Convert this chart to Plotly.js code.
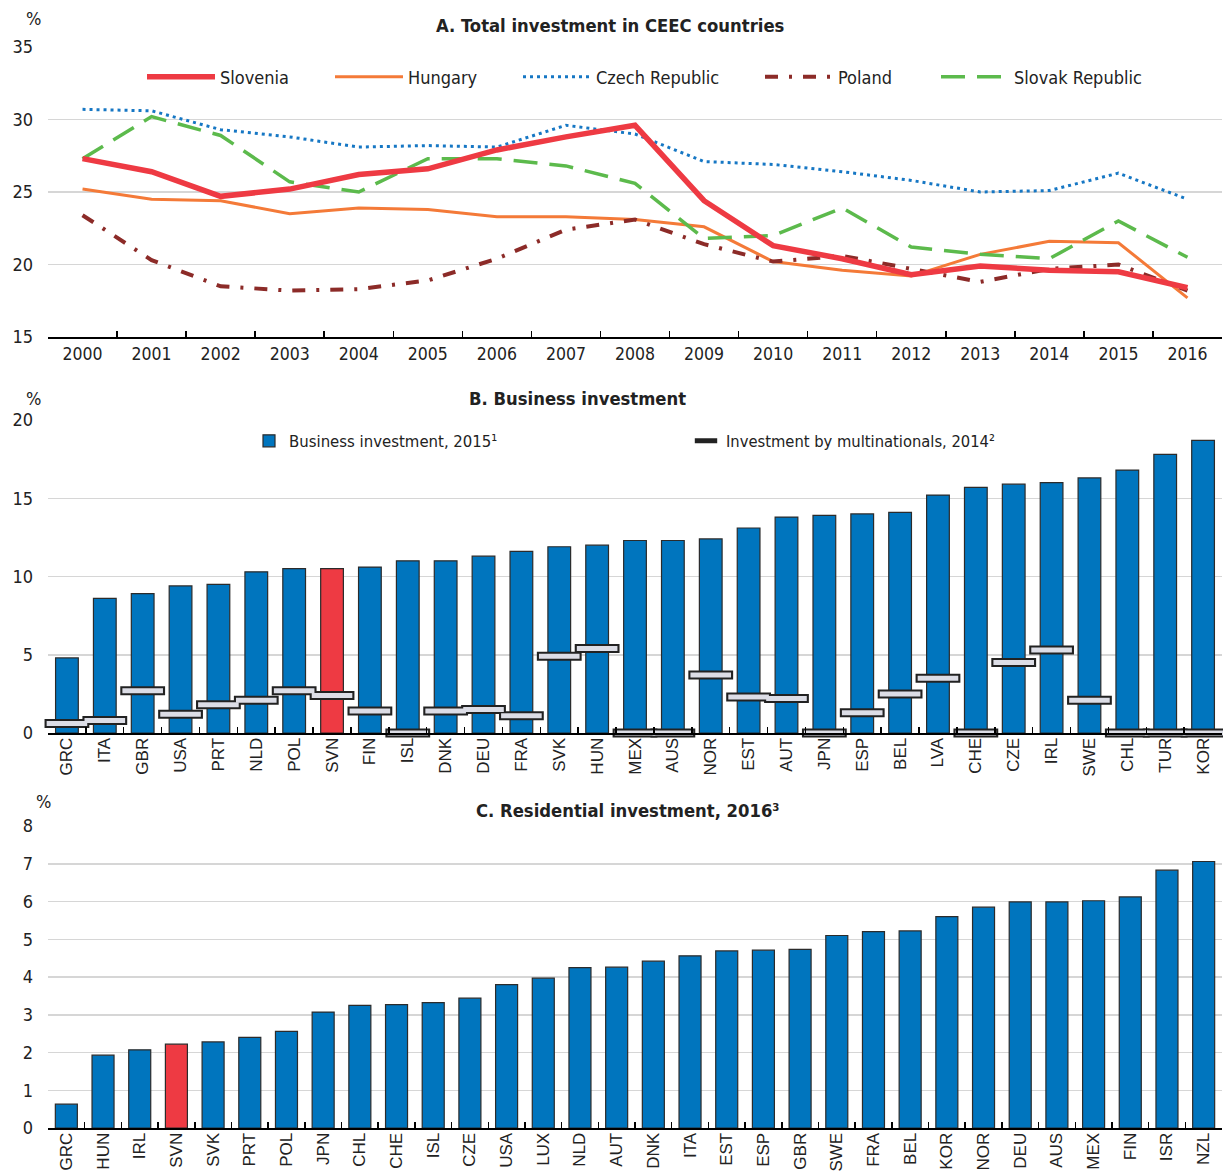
<!DOCTYPE html>
<html><head><meta charset="utf-8">
<script src="https://cdn.plot.ly/plotly-3.0.1.min.js"></script>
<style>html,body{margin:0;padding:0;background:#fff;} #chart{width:1223px;height:1172px;}</style>
</head><body><div id="chart"></div>
<script>
// ---------- Panel A data ----------
const years = ['2000','2001','2002','2003','2004','2005','2006','2007','2008','2009','2010','2011','2012','2013','2014','2015','2016'];
const slovenia = [27.3,26.4,24.7,25.2,26.2,26.6,27.9,28.8,29.6,24.4,21.3,20.4,19.3,19.9,19.6,19.5,18.4];
const hungary  = [25.2,24.5,24.4,23.5,23.9,23.8,23.3,23.3,23.1,22.6,20.2,19.6,19.2,20.7,21.6,21.5,17.7];
const czech    = [30.7,30.6,29.3,28.8,28.1,28.2,28.1,29.6,29.0,27.1,26.9,26.4,25.8,25.0,25.1,26.3,24.5];
const poland   = [23.4,20.3,18.5,18.2,18.3,18.9,20.4,22.4,23.1,21.4,20.2,20.6,19.7,18.8,19.7,20.0,18.2];
const slovak   = [27.3,30.2,28.9,25.7,25.0,27.3,27.3,26.8,25.6,21.8,22.0,23.9,21.2,20.7,20.4,23.0,20.5];

// ---------- Panel B data ----------
const bizCountries = ['GRC','ITA','GBR','USA','PRT','NLD','POL','SVN','FIN','ISL','DNK','DEU','FRA','SVK','HUN','MEX','AUS','NOR','EST','AUT','JPN','ESP','BEL','LVA','CHE','CZE','IRL','SWE','CHL','TUR','KOR'];
const bizValues = [4.8,8.6,8.9,9.4,9.5,10.3,10.5,10.5,10.6,11.0,11.0,11.3,11.6,11.9,12.0,12.3,12.3,12.4,13.1,13.8,13.9,14.0,14.1,15.2,15.7,15.9,16.0,16.3,16.8,17.8,18.7];
const mncValues = [0.6,0.8,2.7,1.2,1.8,2.1,2.7,2.4,1.4,0,1.4,1.5,1.1,4.9,5.4,0,0,3.7,2.3,2.2,0,1.3,2.5,3.5,0,4.5,5.3,2.1,0,0,0];

// ---------- Panel C data ----------
const resCountries = ['GRC','HUN','IRL','SVN','SVK','PRT','POL','JPN','CHL','CHE','ISL','CZE','USA','LUX','NLD','AUT','DNK','ITA','EST','ESP','GBR','SWE','FRA','BEL','KOR','NOR','DEU','AUS','MEX','FIN','ISR','NZL'];
const resValues = [0.63,1.93,2.07,2.22,2.28,2.40,2.56,3.07,3.25,3.27,3.32,3.44,3.80,3.97,4.25,4.26,4.42,4.56,4.69,4.71,4.73,5.10,5.20,5.22,5.60,5.85,5.99,5.99,6.02,6.12,6.83,7.06];

const highlight = 'SVN';

// ---------- styles ----------
const W = 1223, H = 1172;
const px = v => v / W;
const py = v => 1 - v / H;
const NARROW = "'Liberation Sans Narrow','Arial Narrow','DejaVu Sans Condensed',sans-serif";
const REG = "'Liberation Sans',Arial,sans-serif";
const TXT = '#222222';
const BLUE = '#0075BE';
const RED = '#EE3A43';
const GRID = '#d6d6d6';

const colorsFor = arr => arr.map(c => c === highlight ? RED : BLUE);

const traces = [
  {type:'scatter', mode:'lines', x:years, y:hungary, name:'Hungary', xaxis:'x', yaxis:'y', legend:'legend2',
   line:{color:'#F47A38', width:3}},
  {type:'scatter', mode:'lines', x:years, y:czech, name:'Czech Republic', xaxis:'x', yaxis:'y', legend:'legend3',
   line:{color:'#1677C4', width:3, dash:'3px,4px'}},
  {type:'scatter', mode:'lines', x:years, y:poland, name:'Poland', xaxis:'x', yaxis:'y', legend:'legend4',
   line:{color:'#8C2B28', width:4, dash:'13px,11px,3px,11px'}},
  {type:'scatter', mode:'lines', x:years, y:slovak, name:'Slovak Republic', xaxis:'x', yaxis:'y', legend:'legend5',
   line:{color:'#5CBA4C', width:3.5, dash:'24px,12px'}},
  {type:'scatter', mode:'lines', x:years, y:slovenia, name:'Slovenia', xaxis:'x', yaxis:'y', legend:'legend',
   line:{color:RED, width:5.5}},

  {type:'bar', x:bizCountries, y:bizValues, name:'Business investment, 2015¹', xaxis:'x2', yaxis:'y2', legend:'legend6',
   width:0.6, marker:{color:colorsFor(bizCountries), line:{color:'#2b2b2b', width:1.2}}},
  {type:'scatter', mode:'markers', x:bizCountries, y:mncValues, name:'Investment by multinationals, 2014²', xaxis:'x2', yaxis:'y2', legend:'legend7',
   cliponaxis:false, marker:{symbol:'line-ew', size:32, color:'#222', line:{width:9, color:'#222'}}},
  {type:'scatter', mode:'markers', x:bizCountries, y:mncValues, showlegend:false, xaxis:'x2', yaxis:'y2', hoverinfo:'skip',
   cliponaxis:false, marker:{symbol:'line-ew', size:29, color:'#DCDDE6', line:{width:5, color:'#DCDDE6'}}},

  {type:'bar', x:resCountries, y:resValues, name:'Residential investment, 2016', xaxis:'x3', yaxis:'y3', showlegend:false,
   width:0.6, marker:{color:colorsFor(resCountries), line:{color:'#2b2b2b', width:1.2}}}
];

const X0 = px(48), X1 = px(1222);
const xBase = {
  type:'category', tickson:'boundaries', ticks:'inside', ticklen:6, tickwidth:1.5, tickcolor:'#000',
  showline:true, linecolor:'#000', linewidth:2, showgrid:false, zeroline:false, fixedrange:true
};
const yBase = {
  showgrid:true, gridcolor:GRID, gridwidth:1.5, zeroline:false, showline:false, ticks:'',
  ticklabelstandoff:14, tickfont:{family:NARROW, size:18, color:TXT}, fixedrange:true
};
const legBase = (x, y, size, iw) => ({
  x:px(x), y:py(y), xanchor:'left', yanchor:'middle', orientation:'h', bgcolor:'rgba(0,0,0,0)',
  borderwidth:0, itemwidth:iw, font:{family:NARROW, size:size, color:TXT}
});
const TFONT = {family:NARROW, size:18.3, color:TXT};

const layout = {
  width:W, height:H, margin:{l:0, r:0, t:0, b:0},
  paper_bgcolor:'#fff', plot_bgcolor:'#fff',
  font:{family:NARROW, size:18, color:TXT},
  showlegend:true,
  xaxis: Object.assign({}, xBase, {domain:[X0,X1], anchor:'y', range:[-0.5,16.5],
    tickfont:{family:NARROW, size:17.5, color:TXT}}),
  yaxis: Object.assign({}, yBase, {domain:[py(337), py(47)], anchor:'x', range:[15,35], dtick:5}),
  xaxis2: Object.assign({}, xBase, {domain:[X0,X1], anchor:'y2', range:[-0.5,30.5], tickangle:-90,
    ticklabelstandoff:-4, tickfont:{family:REG, size:17, color:TXT}}),
  yaxis2: Object.assign({}, yBase, {domain:[py(733), py(420)], anchor:'x2', range:[0,20], dtick:5}),
  xaxis3: Object.assign({}, xBase, {domain:[X0,X1], anchor:'y3', range:[-0.5,31.5], tickangle:-90,
    ticklabelstandoff:-4, tickfont:{family:REG, size:17, color:TXT}}),
  yaxis3: Object.assign({}, yBase, {domain:[py(1128), py(826)], anchor:'x3', range:[0,8], dtick:1}),
  legend:  legBase(142, 77, 18, 68),
  legend2: legBase(330, 77, 18, 68),
  legend3: legBase(518, 77, 18, 68),
  legend4: legBase(760, 77, 18, 68),
  legend5: legBase(936, 77, 18, 68),
  legend6: legBase(249, 441, 16.6, 30),
  legend7: legBase(686, 441, 16.4, 30),
  annotations: [
    {text:'<b>A. Total investment in CEEC countries</b>', x:px(610), y:py(25), xref:'paper', yref:'paper',
     xanchor:'center', yanchor:'middle', showarrow:false, font:TFONT},
    {text:'<b>B. Business investment</b>', x:px(577), y:py(398), xref:'paper', yref:'paper',
     xanchor:'center', yanchor:'middle', showarrow:false, font:TFONT},
    {text:'<b>C. Residential investment, 2016³</b>', x:px(628), y:py(810), xref:'paper', yref:'paper',
     xanchor:'center', yanchor:'middle', showarrow:false, font:TFONT},
    {text:'%', x:px(33), y:py(18), xref:'paper', yref:'paper', xanchor:'center', yanchor:'middle',
     showarrow:false, font:{family:NARROW, size:18, color:TXT}},
    {text:'%', x:px(33), y:py(398), xref:'paper', yref:'paper', xanchor:'center', yanchor:'middle',
     showarrow:false, font:{family:NARROW, size:18, color:TXT}},
    {text:'%', x:px(43), y:py(801), xref:'paper', yref:'paper', xanchor:'center', yanchor:'middle',
     showarrow:false, font:{family:NARROW, size:18, color:TXT}}
  ]
};

Plotly.newPlot('chart', traces, layout, {displayModeBar:false, staticPlot:true});
</script></body></html>
